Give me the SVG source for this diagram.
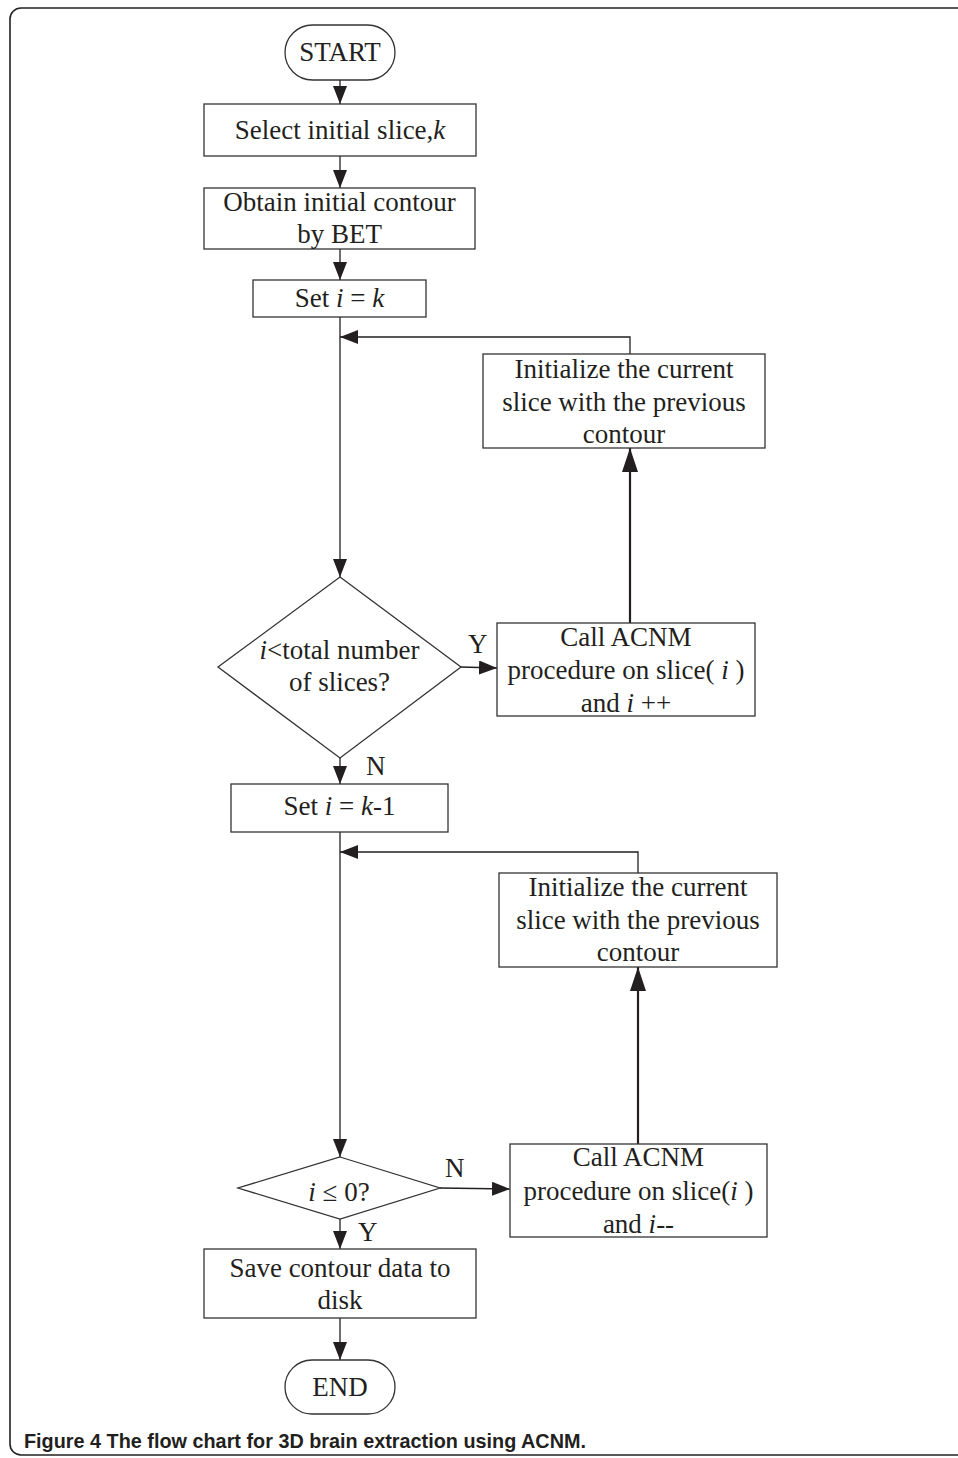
<svg xmlns="http://www.w3.org/2000/svg" width="958" height="1458" viewBox="0 0 958 1458">
<style>
.bg{fill:#fff}
.frame{fill:none;stroke:#222;stroke-width:1.6}
.box{fill:#fff;stroke:#333;stroke-width:1.3}
.t{font-family:"Liberation Serif","Times New Roman",serif;font-size:27px;fill:#231f20;text-anchor:middle}
.lbl{font-family:"Liberation Serif","Times New Roman",serif;font-size:27px;fill:#231f20}
.cap{font-family:"Liberation Sans",Arial,sans-serif;font-size:21px;font-weight:bold;fill:#231f20}
.c{fill:none;stroke:#231f20;stroke-width:1.3}
.c2{fill:none;stroke:#231f20;stroke-width:2.2}
.i{font-style:italic}
</style>
<defs>
<marker id="arr" markerUnits="userSpaceOnUse" markerWidth="20" markerHeight="16" refX="18" refY="7" orient="auto"><path d="M0,0 L18,7 L0,14 Z" fill="#231f20"/></marker>
<marker id="arrL" markerUnits="userSpaceOnUse" markerWidth="26" markerHeight="18" refX="24" refY="8" orient="auto"><path d="M0,0 L24,8 L0,16 Z" fill="#231f20"/></marker>
</defs>
<rect class="bg" x="0" y="0" width="958" height="1458"/>
<rect class="frame" x="10" y="8" width="980" height="1447" rx="11"/>

<g id="connectors">
<path class="c" d="M340,80 V104" marker-end="url(#arr)"/>
<path class="c" d="M340,156 V188" marker-end="url(#arr)"/>
<path class="c" d="M340,249 V280" marker-end="url(#arr)"/>
<path class="c" d="M340,317 V577" marker-end="url(#arr)"/>
<path class="c2" d="M630,623 V448" marker-end="url(#arrL)"/>
<path class="c" d="M630,354 V337 H340" marker-end="url(#arr)"/>
<path class="c" d="M461,667 L497,668" marker-end="url(#arr)"/>
<path class="c" d="M340,758 V784" marker-end="url(#arr)"/>
<path class="c" d="M340,832 V1157" marker-end="url(#arr)"/>
<path class="c2" d="M638,1144 V967" marker-end="url(#arrL)"/>
<path class="c" d="M638,873 V852 H340" marker-end="url(#arr)"/>
<path class="c" d="M440,1188 L510,1189" marker-end="url(#arr)"/>
<path class="c" d="M340,1219 V1249" marker-end="url(#arr)"/>
<path class="c" d="M340,1318 V1360" marker-end="url(#arr)"/>
</g>

<g id="start">
<rect class="box" x="285" y="25" width="110" height="55" rx="27.5"/>
<text class="t" x="340" y="61">START</text>
</g>
<g id="select">
<rect class="box" x="204" y="104" width="272" height="52"/>
<text class="t" x="340" y="139">Select initial slice,<tspan class="i">k</tspan></text>
</g>
<g id="obtain">
<rect class="box" x="204" y="188" width="271" height="61"/>
<text class="t" x="339.5" y="211">Obtain initial contour</text>
<text class="t" x="339.5" y="243">by BET</text>
</g>
<g id="set1">
<rect class="box" x="253" y="280" width="173" height="37"/>
<text class="t" x="339.5" y="307">Set <tspan class="i">i</tspan> = <tspan class="i">k</tspan></text>
</g>
<g id="init1">
<rect class="box" x="483" y="354" width="282" height="94"/>
<text class="t" x="624" y="378">Initialize the current</text>
<text class="t" x="624" y="411">slice with the previous</text>
<text class="t" x="624" y="443">contour</text>
</g>
<g id="decision1">
<polygon class="box" points="340,577 461,667 340,758 218,667"/>
<text class="t" x="339.5" y="659"><tspan class="i">i</tspan>&lt;total number</text>
<text class="t" x="339.5" y="691">of slices?</text>
<text class="lbl" x="468" y="653">Y</text>
<text class="lbl" x="366" y="775">N</text>
</g>
<g id="call1">
<rect class="box" x="497" y="623" width="258" height="93"/>
<text class="t" x="626" y="646">Call ACNM</text>
<text class="t" x="626" y="679">procedure on slice( <tspan class="i">i</tspan> )</text>
<text class="t" x="626" y="712">and <tspan class="i">i</tspan> ++</text>
</g>
<g id="set2">
<rect class="box" x="231" y="784" width="217" height="48"/>
<text class="t" x="339.5" y="815">Set <tspan class="i">i</tspan> = <tspan class="i">k</tspan>-1</text>
</g>
<g id="init2">
<rect class="box" x="499" y="873" width="278" height="94"/>
<text class="t" x="638" y="896">Initialize the current</text>
<text class="t" x="638" y="929">slice with the previous</text>
<text class="t" x="638" y="961">contour</text>
</g>
<g id="decision2">
<polygon class="box" points="340,1157 440,1188 340,1219 238,1188"/>
<text class="t" x="339" y="1201"><tspan class="i">i</tspan> ≤ 0?</text>
<text class="lbl" x="445" y="1177">N</text>
<text class="lbl" x="358" y="1241">Y</text>
</g>
<g id="call2">
<rect class="box" x="510" y="1144" width="257" height="93"/>
<text class="t" x="638.5" y="1166">Call ACNM</text>
<text class="t" x="638.5" y="1200">procedure on slice(<tspan class="i">i</tspan> )</text>
<text class="t" x="638.5" y="1233">and <tspan class="i">i</tspan>--</text>
</g>
<g id="save">
<rect class="box" x="204" y="1249" width="272" height="69"/>
<text class="t" x="340" y="1277">Save contour data to</text>
<text class="t" x="340" y="1309">disk</text>
</g>
<g id="end">
<rect class="box" x="285" y="1360" width="110" height="54" rx="27"/>
<text class="t" x="340" y="1396">END</text>
</g>
<g id="caption">
<text class="cap" x="24" y="1448" textLength="562" lengthAdjust="spacingAndGlyphs">Figure 4 The flow chart for 3D brain extraction using ACNM.</text>
</g>
</svg>
